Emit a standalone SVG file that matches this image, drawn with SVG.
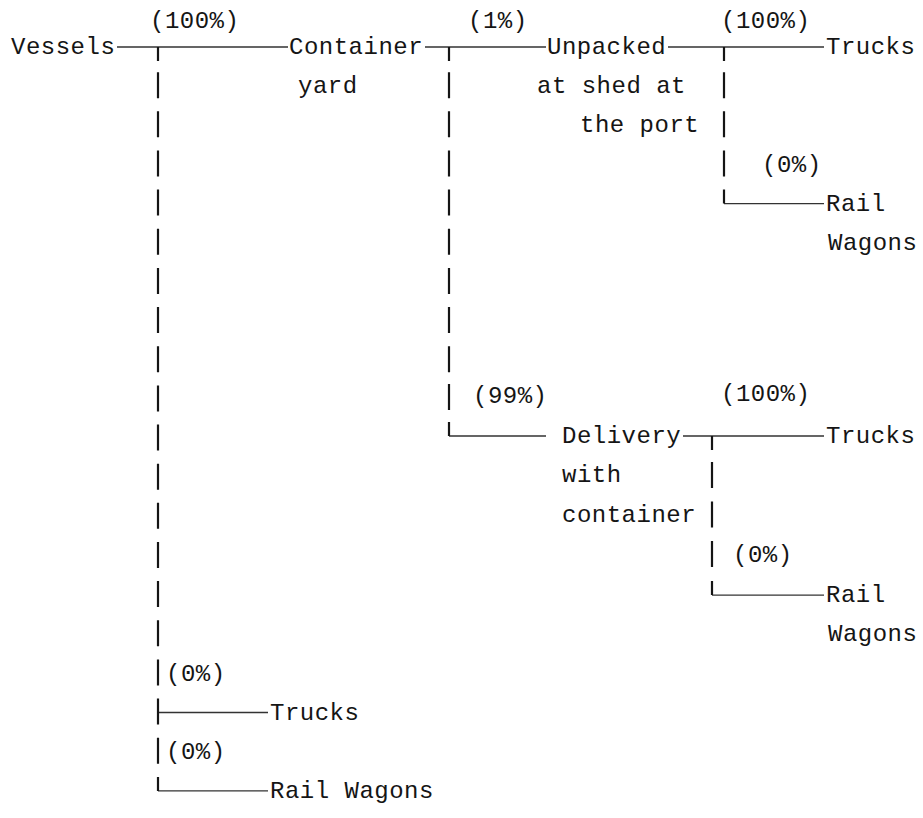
<svg xmlns="http://www.w3.org/2000/svg" width="923" height="818" viewBox="0 0 923 818">
  <style>
    text { font-family: "Liberation Mono", "DejaVu Sans Mono", monospace; font-size: 24px; letter-spacing: 0.5px; fill: #151515; }
    .h { stroke: #333333; stroke-width: 1.4; fill: none; }
    .v { stroke: #151515; stroke-width: 2.2; fill: none; }
  </style>
  <rect width="923" height="818" fill="#ffffff"/>

  <!-- connectors: horizontal runs and typed vertical bars -->
  <g id="connectors">
    <!-- row 0 main run -->
    <path class="h" d="M117 47H288 M425 47H546 M668 47H824"/>
    <!-- upper right branch to rail -->
    <path class="h" d="M724 203.6H824"/>
    <!-- 99% branch -->
    <path class="h" d="M449 436H546 M683 436H824"/>
    <path class="h" d="M712 595.1H824"/>
    <!-- direct branches off the vessels line -->
    <path class="h" d="M158 712.5H268 M158 790.9H268"/>

    <!-- left column of bars -->
    <path class="v" d="M158 47V61
      M158 72.2V98.2 M158 111.3V137.3 M158 150.5V176.5 M158 189.6V215.6
      M158 228.8V254.8 M158 267.9V293.9 M158 307.1V333.1 M158 346.2V372.2
      M158 385.4V411.4 M158 424.5V450.5 M158 463.7V489.7 M158 502.8V528.8
      M158 542V568 M158 581.1V607.1 M158 620.3V646.3 M158 659.4V685.4
      M158 698.6V724.6 M158 737.7V763.7 M158 776.9V790.9"/>
    <!-- container yard column -->
    <path class="v" d="M449 47V61
      M449 72.2V98.2 M449 111.3V137.3 M449 150.5V176.5 M449 189.6V215.6
      M449 228.8V254.8 M449 267.9V293.9 M449 307.1V333.1 M449 346.2V372.2
      M449 384V410 M449 422V436"/>
    <!-- unpacked column -->
    <path class="v" d="M724 47V61 M724 72.2V98.2 M724 111.3V137.3 M724 150.5V176.5 M724 189.6V203.6"/>
    <!-- delivery column -->
    <path class="v" d="M712 436V450 M712 462V488 M712 501.5V527.5 M712 541V567 M712 581.1V595.1"/>
  </g>

  <!-- share labels -->
  <g id="shares">
    <text x="150" y="28">(100%)</text>
    <text x="468" y="28">(1%)</text>
    <text x="721" y="28">(100%)</text>
    <text x="762" y="171.5">(0%)</text>
    <text x="473" y="403">(99%)</text>
    <text x="721" y="401">(100%)</text>
    <text x="733" y="562">(0%)</text>
    <text x="166" y="680.5">(0%)</text>
    <text x="166" y="758.5">(0%)</text>
  </g>

  <g id="vessels"><text x="11" y="54">Vessels</text></g>
  <g id="container-yard">
    <text x="289" y="54">Container</text>
    <text x="298" y="93">yard</text>
  </g>
  <g id="unpacked">
    <text x="547" y="54">Unpacked</text>
    <text x="537" y="93">at shed at</text>
    <text x="580" y="132">the port</text>
  </g>
  <g id="trucks-unpacked"><text x="826" y="54">Trucks</text></g>
  <g id="rail-unpacked">
    <text x="826" y="210.5">Rail</text>
    <text x="828" y="250">Wagons</text>
  </g>
  <g id="delivery">
    <text x="562" y="443">Delivery</text>
    <text x="562" y="482">with</text>
    <text x="562" y="521.5">container</text>
  </g>
  <g id="trucks-delivery"><text x="826" y="443">Trucks</text></g>
  <g id="rail-delivery">
    <text x="826" y="602">Rail</text>
    <text x="828" y="641">Wagons</text>
  </g>
  <g id="trucks-direct"><text x="270" y="719.5">Trucks</text></g>
  <g id="rail-direct"><text x="270" y="798">Rail Wagons</text></g>
</svg>
